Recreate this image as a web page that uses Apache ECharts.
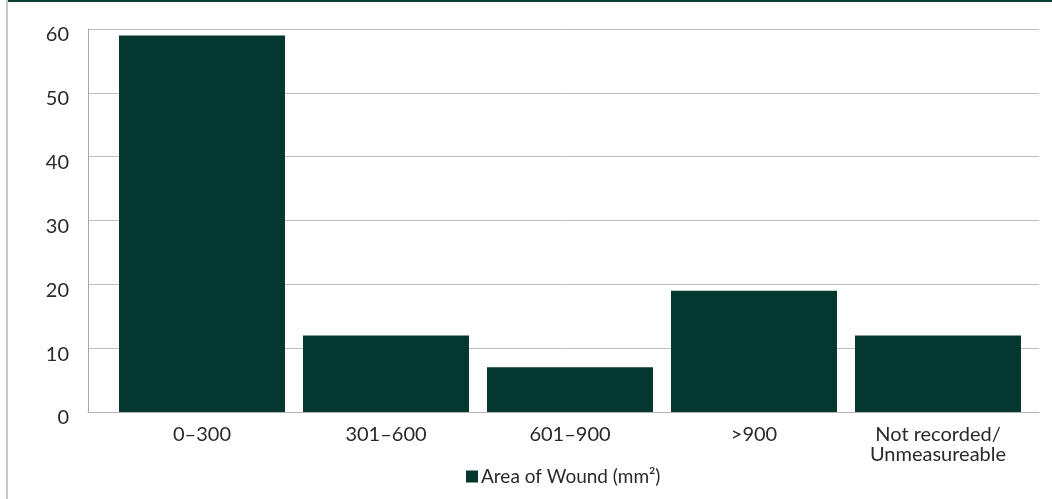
<!DOCTYPE html>
<html>
<head>
<meta charset="utf-8">
<script src="https://cdn.jsdelivr.net/npm/echarts@6/dist/echarts.min.js"></script>
<style>
html,body{margin:0;padding:0;background:#fff;}
#chart{width:1052px;height:499px;}
</style>
</head>
<body>
<div id="chart"></div>
<script>
var categories = ['0–300', '301–600', '601–900', '>900', 'Not recorded/\nUnmeasureable'];
var woundCounts = [59, 12, 7, 19, 12];
var seriesName = 'Area of Wound (mm²)';
var yMin = 0, yMax = 60, yStep = 10;

var FONT = 'Lato';
var chart = echarts.init(document.getElementById('chart'));
chart.setOption({
  animation: false,
  backgroundColor: '#ffffff',
  textStyle: { fontFamily: FONT },
  graphic: [
    { type: 'rect', left: 6, top: 0, shape: { width: 2, height: 499 }, style: { fill: '#c8c8c8' }, silent: true },
    { type: 'rect', left: 8, top: 0, shape: { width: 1044, height: 2 }, style: { fill: '#0b3d31' }, silent: true }
  ],
  grid: [
    { left: 88, right: 13, top: 29, height: 383 },
    { left: 110, width: 920, top: 29, height: 383 }
  ],
  legend: {
    data: [seriesName],
    left: 461, top: 462,
    icon: 'rect', itemWidth: 12, itemHeight: 12, itemGap: 4,
    textStyle: { fontFamily: FONT, fontSize: 19, color: '#2a2a2a', padding: [0, 0, 0, -2] }
  },
  xAxis: [
    { type: 'category', gridIndex: 0, data: [''], axisTick: { show: false }, axisLabel: { show: false },
      axisLine: { lineStyle: { color: '#b4b4b4', width: 1 } } },
    { type: 'category', gridIndex: 1, data: categories,
      axisLine: { show: false }, axisTick: { show: false },
      axisLabel: { fontFamily: FONT, fontSize: 20, color: '#2a2a2a', margin: 13, lineHeight: 20, interval: 0 } }
  ],
  yAxis: [
    { type: 'value', gridIndex: 0, min: yMin, max: yMax, interval: yStep,
      axisLine: { show: true, lineStyle: { color: '#a8a8a8' } }, axisTick: { show: false },
      splitLine: { lineStyle: { color: '#bdbdbd', width: 1 } },
      axisLabel: { fontFamily: FONT, fontSize: 20, color: '#2a2a2a', margin: 19, verticalAlign: 'top', lineHeight: 12 } },
    { type: 'value', gridIndex: 1, min: yMin, max: yMax, interval: yStep, show: false }
  ],
  series: [{
    name: seriesName,
    type: 'bar',
    xAxisIndex: 1, yAxisIndex: 1,
    data: woundCounts,
    barWidth: 166,
    itemStyle: { color: '#04382e' }
  }]
});
</script>
</body>
</html>
